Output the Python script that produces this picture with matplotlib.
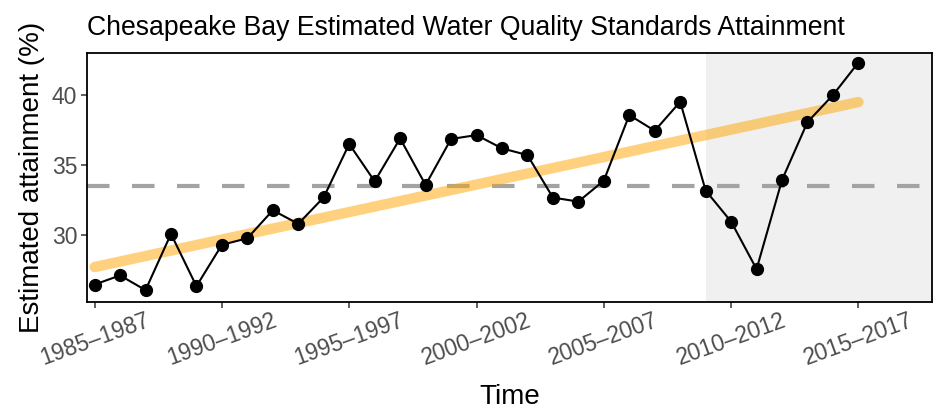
import matplotlib
matplotlib.use("Agg")
import matplotlib.pyplot as plt
import numpy as np

plt.rcParams['font.family'] = ['Liberation Sans', 'DejaVu Sans']

# 3-year rolling periods
periods = ['1985–1987', '1986–1988', '1987–1989', '1988–1990', '1989–1991',
           '1990–1992', '1991–1993', '1992–1994', '1993–1995', '1994–1996',
           '1995–1997', '1996–1998', '1997–1999', '1998–2000', '1999–2001',
           '2000–2002', '2001–2003', '2002–2004', '2003–2005', '2004–2006',
           '2005–2007', '2006–2008', '2007–2009', '2008–2010', '2009–2011',
           '2010–2012', '2011–2013', '2012–2014', '2013–2015', '2014–2016',
           '2015–2017']

attainment = [26.45, 27.1, 26.05, 30.07, 26.33, 29.29, 29.76, 31.76, 30.79, 32.69,
              36.5, 33.83, 36.9, 33.57, 36.86, 37.14, 36.19, 35.71, 32.67, 32.38,
              33.88, 38.57, 37.45, 39.52, 33.17, 30.95, 27.55, 33.93, 38.07, 40.0,
              42.33]

mean_line = 33.5
trend_ends = [27.7, 39.5]   # fitted trend at first and last period
shade_start = '2009–2011'
label_every = 5


def main():
    x = np.arange(len(periods))

    fig = plt.figure(figsize=(9.33, 4.12), dpi=100)
    ax = fig.add_axes([0.0932, 0.267, 0.906, 0.604])

    xlim = (-0.3, 32.9)
    ax.axvspan(periods.index(shade_start), xlim[1], color='#F0F0F0', lw=0, zorder=0)

    ax.axhline(mean_line, color='#A3A3A3', lw=3, dashes=(5.4, 5.4), zorder=1)
    ax.plot([x[0], x[-1]], trend_ends, color='#FFA500', alpha=0.5, lw=7.5,
            solid_capstyle='round', zorder=2)
    ax.plot(x, attainment, color='black', lw=1.5, marker='o', markersize=8.5, zorder=3)

    ax.set_xlim(*xlim)
    ax.set_ylim(25.2, 43.0)
    ax.set_yticks([30, 35, 40])

    ticks = x[::label_every]
    ax.set_xticks(ticks)
    ax.set_xticklabels([periods[i] for i in ticks], rotation=20, ha='center',
                       rotation_mode='default')

    ax.tick_params(axis='both', colors='#333333', labelcolor='#4D4D4D',
                   labelsize=16.5, length=4, width=1.1)
    ax.tick_params(axis='x', pad=1)
    ax.tick_params(axis='y', pad=3)
    for s in ax.spines.values():
        s.set_linewidth(1.3)
        s.set_color('black')

    ax.set_xlabel('Time', fontsize=20, labelpad=10)
    ax.set_ylabel('Estimated attainment (%)', fontsize=20, labelpad=5)
    ax.set_title('Chesapeake Bay Estimated Water Quality Standards Attainment',
                 fontsize=19.2, loc='left', pad=13)

    fig.savefig('out.png', dpi=100)


if __name__ == '__main__':
    main()
